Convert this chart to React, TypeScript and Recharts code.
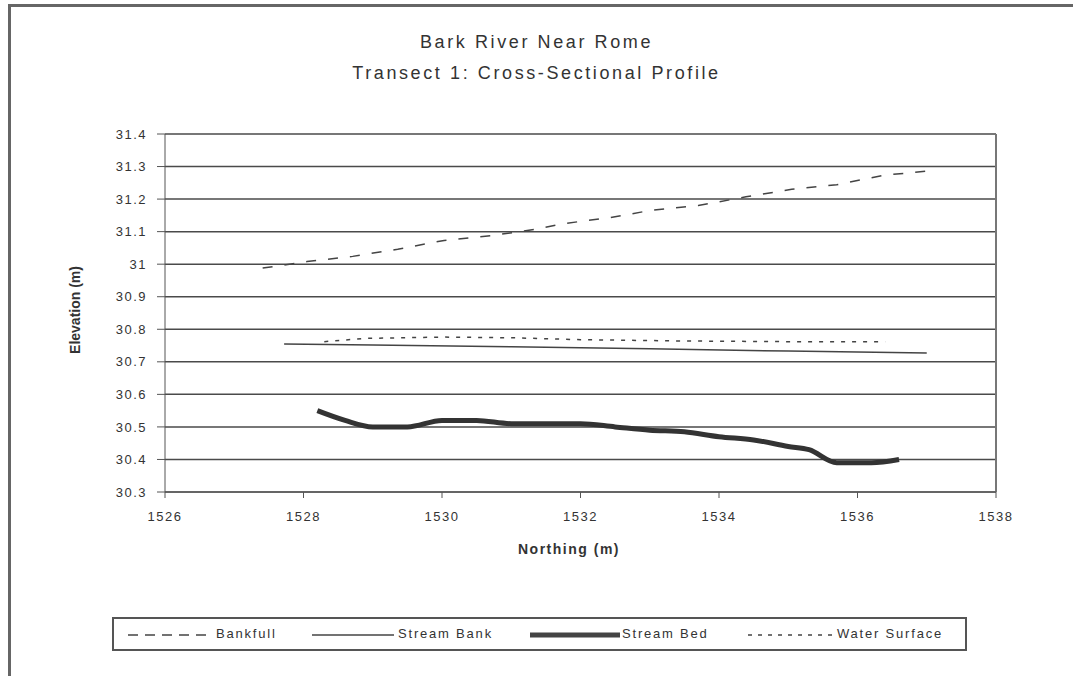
import { CartesianGrid, Line, LineChart, ReferenceLine, XAxis, YAxis } from "recharts";

const northingTicks = [1526, 1528, 1530, 1532, 1534, 1536, 1538];
const elevationTicks = [30.3, 30.4, 30.5, 30.6, 30.7, 30.8, 30.9, 31.0, 31.1, 31.2, 31.3, 31.4];

const bankfullNorthing = [1527.41, 1528.05, 1528.71, 1529.36, 1530.03, 1530.72, 1531.34, 1531.73, 1532.43, 1533.03, 1533.7, 1534.39, 1535.05, 1535.7, 1536.37, 1537.05];
const bankfullElevation = [30.988, 31.008, 31.024, 31.046, 31.073, 31.088, 31.107, 31.124, 31.143, 31.166, 31.18, 31.207, 31.23, 31.244, 31.273, 31.287];

const bankNorthing = [1527.72, 1529.0, 1531.0, 1533.0, 1535.0, 1537.0];
const bankElevation = [30.755, 30.752, 30.746, 30.74, 30.733, 30.727];

const bedNorthing = [1528.2, 1528.6, 1529.0, 1529.5, 1530.0, 1530.5, 1531.0, 1532.0, 1532.5, 1533.0, 1533.5, 1534.0, 1534.5, 1535.0, 1535.3, 1535.7, 1536.2, 1536.6];
const bedElevation = [30.55, 30.52, 30.5, 30.5, 30.52, 30.52, 30.51, 30.51, 30.5, 30.49, 30.485, 30.47, 30.46, 30.44, 30.43, 30.39, 30.39, 30.4];

const waterNorthing = [1528.3, 1528.9, 1530.0, 1531.0, 1532.0, 1533.5, 1535.0, 1536.4];
const waterElevation = [30.762, 30.772, 30.776, 30.774, 30.768, 30.764, 30.762, 30.762];

const toPoints = (xs: number[], ys: number[]) => xs.map((x, i) => ({ x, y: ys[i] }));

const font = "'Liberation Sans', Arial, sans-serif";
const ink = "#333";

const legendItems = [
  { name: "Bankfull", lineX: 128, lineW: 84, textX: 216, dash: "10 7", width: 1.5 },
  { name: "Stream Bank", lineX: 312, lineW: 82, textX: 398, dash: undefined, width: 1.5 },
  { name: "Stream Bed", lineX: 530, lineW: 90, textX: 622, dash: undefined, width: 5 },
  { name: "Water Surface", lineX: 748, lineW: 84, textX: 837, dash: "4 6", width: 1.5 },
];

export default function App() {
  const tickStyle = { fill: ink, fontSize: 13, fontFamily: font, letterSpacing: 1.5 };
  return (
    <div style={{ position: "absolute", left: 0, top: 0, width: 1073, height: 676, background: "#fff", overflow: "hidden" }}>
      <div style={{ position: "absolute", left: 8, top: 4, width: 1080, height: 700, borderLeft: "3px solid #666", borderTop: "3px solid #666" }} />
      <div style={{ position: "absolute", left: 0, width: 1073, top: 27, textAlign: "center", fontFamily: font, fontSize: 18, color: ink, letterSpacing: 2.6, lineHeight: "31px" }}>
        <div>Bark River Near Rome</div>
        <div>Transect 1: Cross-Sectional Profile</div>
      </div>
      <div style={{ position: "absolute", left: 0, top: 0 }}>
        <LineChart width={1073} height={676} margin={{ top: 134, right: 77, bottom: 154, left: 105 }}>
          <CartesianGrid vertical={false} stroke="#4a4a4a" strokeWidth={1.5} />
          <XAxis
            type="number"
            dataKey="x"
            domain={[1526, 1538]}
            ticks={northingTicks}
            allowDataOverflow
            height={30}
            stroke="#555"
            tickSize={6}
            tickMargin={14}
            tick={tickStyle}
          />
          <YAxis
            type="number"
            dataKey="y"
            domain={[30.3, 31.4]}
            ticks={elevationTicks}
            allowDataOverflow
            width={60}
            stroke="#555"
            tickSize={8}
            tickMargin={10}
            tick={tickStyle}
            tickFormatter={(v: number) => String(Number(v.toFixed(1)))}
          />
          <ReferenceLine x={1538} stroke="#777" strokeWidth={2} />
          <Line data={toPoints(bankfullNorthing, bankfullElevation)} dataKey="y" type="linear" stroke="#444" strokeWidth={1.5} strokeDasharray="10 12" dot={false} isAnimationActive={false} />
          <Line data={toPoints(bankNorthing, bankElevation)} dataKey="y" type="linear" stroke="#444" strokeWidth={1.5} dot={false} isAnimationActive={false} />
          <Line data={toPoints(bedNorthing, bedElevation)} dataKey="y" type="monotone" stroke="#333" strokeWidth={5} dot={false} isAnimationActive={false} />
          <Line data={toPoints(waterNorthing, waterElevation)} dataKey="y" type="linear" stroke="#444" strokeWidth={1.5} strokeDasharray="4 7" dot={false} isAnimationActive={false} />
        </LineChart>
      </div>
      <div style={{ position: "absolute", left: 75, top: 310, transform: "translate(-50%, -50%) rotate(-90deg)", fontFamily: font, fontSize: 14, fontWeight: "bold", color: ink, whiteSpace: "nowrap" }}>
        Elevation (m)
      </div>
      <div style={{ position: "absolute", left: 569, top: 549, transform: "translate(-50%, -50%)", fontFamily: font, fontSize: 14, fontWeight: "bold", color: ink, letterSpacing: 1.5, whiteSpace: "nowrap" }}>
        Northing (m)
      </div>
      <div style={{ position: "absolute", left: 112, top: 617, width: 851, height: 30, border: "2px solid #555" }}>
        {legendItems.map((item) => (
          <div key={item.name}>
            <svg style={{ position: "absolute", left: item.lineX - 114, top: 0 }} width={item.lineW} height={30}>
              <line x1={0} y1={16} x2={item.lineW} y2={16} stroke="#444" strokeWidth={item.width} strokeDasharray={item.dash} />
            </svg>
            <div style={{ position: "absolute", left: item.textX - 114, top: 7, fontFamily: font, fontSize: 13, color: ink, letterSpacing: 1.8, whiteSpace: "nowrap" }}>
              {item.name}
            </div>
          </div>
        ))}
      </div>
    </div>
  );
}
